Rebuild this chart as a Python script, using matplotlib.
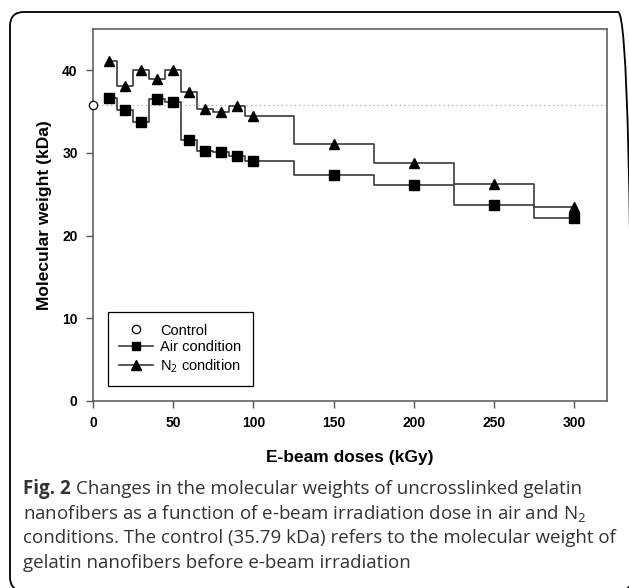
import matplotlib
matplotlib.use("Agg")
import matplotlib.pyplot as plt
from matplotlib.patches import FancyBboxPatch

# data
doses = [10, 20, 30, 40, 50, 60, 70, 80, 90, 100, 150, 200, 250, 300]
air_mw = [36.6, 35.2, 33.8, 36.5, 36.2, 31.6, 30.3, 30.1, 29.6, 29.0, 27.3, 26.1, 23.7, 22.1]
n2_mw = [41.1, 38.1, 40.0, 38.9, 40.1, 37.4, 35.3, 34.9, 35.7, 34.5, 31.1, 28.8, 26.3, 23.5]
control_mw = 35.79
x_ticks = [0, 50, 100, 150, 200, 250, 300]
y_ticks = [0, 10, 20, 30, 40]

plt.rcParams["mathtext.fontset"] = "custom"
plt.rcParams["mathtext.rm"] = "Open Sans"
plt.rcParams["mathtext.it"] = "Open Sans"
plt.rcParams["mathtext.bf"] = "Open Sans:bold"

W, H = 629, 588
fig = plt.figure(figsize=(W / 100, H / 100), dpi=100)

# rounded frame round the whole figure (pixel coords), right side runs off the edge
frame = FancyBboxPatch((10, -3), 622, 579, boxstyle="round,pad=0,rounding_size=14",
                       transform=None, fill=False, edgecolor="black", linewidth=1.3)
fig.patches.append(frame)

ax = fig.add_axes([93 / W, 1 - 401 / H, (606.5 - 93) / W, (401 - 29) / H])

line_col = "#3a3a3a"
ax.axhline(control_mw, color="#a8a8a8", linestyle=(0, (1, 2.5)), linewidth=0.9, zorder=1)
h_ctrl, = ax.plot([0], [control_mw], "o", mfc="white", mec="black", ms=6, mew=0.9,
                  clip_on=False, zorder=5)
ax.plot(doses, air_mw, drawstyle="steps-mid", color=line_col, lw=1.2, zorder=2)
ax.plot(doses, air_mw, "s", color="black", ms=6.5, zorder=3)
ax.plot(doses, n2_mw, drawstyle="steps-mid", color=line_col, lw=1.2, zorder=2)
ax.plot(doses, n2_mw, "^", color="black", ms=7, zorder=3)

# legend proxies
h_air, = ax.plot([], [], color=line_col, lw=1.2, marker="s", mfc="black", mec="black", ms=6)
h_n2, = ax.plot([], [], color=line_col, lw=1.2, marker="^", mfc="black", mec="black", ms=6.5)
leg = ax.legend([h_ctrl, h_air, h_n2], ["Control", "Air condition", "N$_2$ condition"],
                loc="lower left", bbox_to_anchor=(0.0, 0.0), borderaxespad=1.0,
                fancybox=False, edgecolor="black", framealpha=1, handlelength=2.3,
                handletextpad=0.5, borderpad=0.8, labelspacing=0.2,
                prop={"family": "Liberation Sans", "size": 10.5})
leg.get_frame().set_linewidth(0.9)

ax.set_xlim(0, 320)
ax.set_ylim(0, 45)
ax.set_xticks(x_ticks)
ax.set_yticks(y_ticks)
for s in ax.spines.values():
    s.set_color("#555555")
    s.set_linewidth(1.1)
ax.tick_params(direction="out", length=5, width=1, color="#555555", pad=6)
for lab in ax.get_xticklabels() + ax.get_yticklabels():
    lab.set_fontfamily("Liberation Sans")
    lab.set_fontweight("bold")
    lab.set_fontsize(10)

ax.set_xlabel("E-beam doses (kGy)", fontfamily="Liberation Sans", fontweight="bold",
              fontsize=12.5, labelpad=14)
ax.set_ylabel("Molecular weight (kDa)", fontfamily="Liberation Sans", fontweight="bold",
              fontsize=12.5, labelpad=7)

# caption
cap_size = 13.5
cap_col = "#333333"
cap_x = 23
cap_y = [489, 513.5, 538, 562.5]
head = fig.text(cap_x / W, 1 - cap_y[0] / H, "Fig. 2 ", family="Open Sans", weight="bold",
                fontsize=cap_size, color=cap_col, va="center", ha="left")
fig.canvas.draw()
bb = head.get_window_extent()
fig.text(bb.x1 / W, 1 - cap_y[0] / H, "Changes in the molecular weights of uncrosslinked gelatin",
         family="Open Sans", fontsize=cap_size, color=cap_col, va="center", ha="left")
cap_rest = [
    "nanofibers as a function of e-beam irradiation dose in air and N$_2$",
    "conditions. The control (35.79 kDa) refers to the molecular weight of",
    "gelatin nanofibers before e-beam irradiation",
]
for y, t in zip(cap_y[1:], cap_rest):
    fig.text(cap_x / W, 1 - y / H, t, family="Open Sans", fontsize=cap_size,
             color=cap_col, va="center", ha="left")

fig.savefig("out.png", dpi=100)
